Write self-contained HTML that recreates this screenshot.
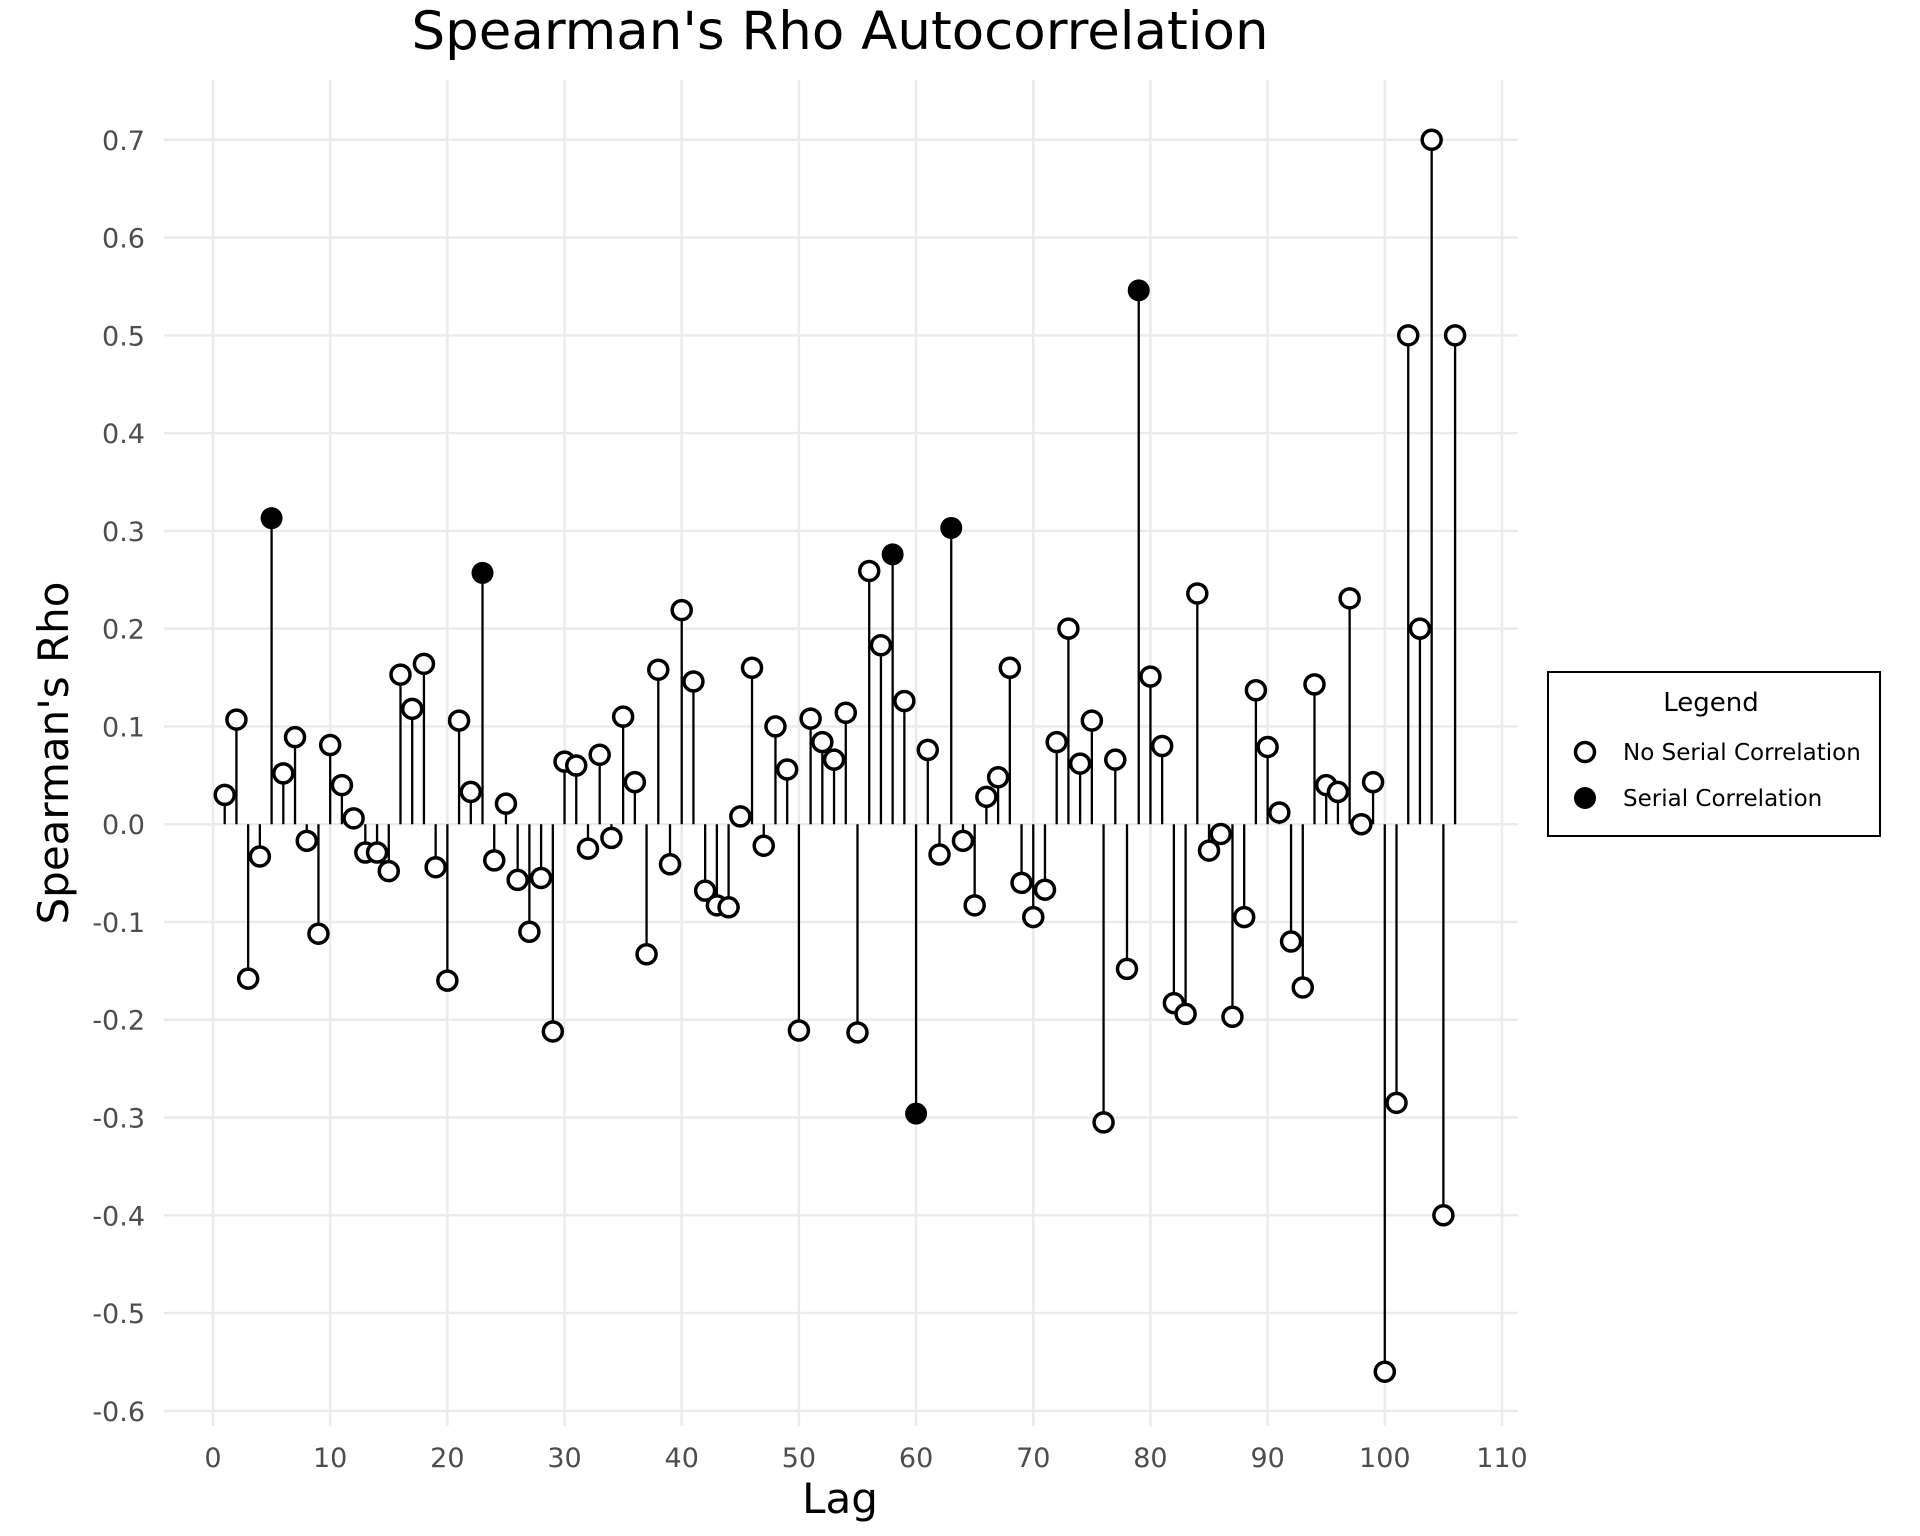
<!DOCTYPE html>
<html><head><meta charset="utf-8"><style>
body{margin:0;background:#fff}
svg{display:block;font-family:"DejaVu Sans","Liberation Sans",sans-serif}
</style></head><body>
<svg id="chart" width="1920" height="1536" viewBox="0 0 1920 1536">
<text x="840" y="49" text-anchor="middle" font-size="53" fill="#000">Spearman's Rho Autocorrelation</text>
<g id="grid"></g><g id="marks"></g>
<text x="840" y="1513" text-anchor="middle" font-size="42" fill="#000">Lag</text>
<text transform="translate(68,753) rotate(-90)" text-anchor="middle" font-size="42" fill="#000">Spearman's Rho</text>
<g>
<rect x="1548" y="672" width="332" height="164" fill="#fff" stroke="#000" stroke-width="2"/>
<text x="1711" y="711" text-anchor="middle" font-size="26">Legend</text>
<circle cx="1585" cy="752" r="9.5" fill="#fff" stroke="#000" stroke-width="3.5"/>
<text x="1623" y="760" font-size="23">No Serial Correlation</text>
<circle cx="1585" cy="798" r="11" fill="#000"/>
<text x="1623" y="806" font-size="23">Serial Correlation</text>
</g>
</svg>
<script>
const rhoValues=[0.03,0.107,-0.158,-0.033,0.313,0.052,0.089,-0.017,-0.112,0.081,0.040,0.006,-0.029,-0.029,-0.048,0.153,0.118,0.164,-0.044,-0.160,0.106,0.033,0.257,-0.037,0.021,-0.057,-0.110,-0.055,-0.212,0.064,0.060,-0.025,0.071,-0.014,0.110,0.043,-0.133,0.158,-0.041,0.219,0.146,-0.068,-0.083,-0.085,0.008,0.160,-0.022,0.100,0.056,-0.211,0.108,0.084,0.066,0.114,-0.213,0.259,0.183,0.276,0.126,-0.296,0.076,-0.031,0.303,-0.017,-0.083,0.028,0.048,0.160,-0.060,-0.095,-0.067,0.084,0.200,0.062,0.106,-0.305,0.066,-0.148,0.546,0.151,0.080,-0.183,-0.194,0.236,-0.027,-0.010,-0.197,-0.095,0.137,0.079,0.012,-0.120,-0.167,0.143,0.040,0.033,0.231,0.000,0.043,-0.560,-0.285,0.500,0.200,0.700,-0.400,0.500];
const serialLags=[5,23,58,60,63,79];
const xTicks=[0,10,20,30,40,50,60,70,80,90,100,110];
const yTicks=[-0.6,-0.5,-0.4,-0.3,-0.2,-0.1,0.0,0.1,0.2,0.3,0.4,0.5,0.6,0.7];
const NS="http://www.w3.org/2000/svg";
const xS=v=>213.0+v*11.718;
const yS=v=>824.2-v*977.7;
function mk(t,a,p){const e=document.createElementNS(NS,t);for(const k in a)e.setAttribute(k,a[k]);p.appendChild(e);return e;}
const grid=document.getElementById('grid'),marks=document.getElementById('marks');
xTicks.forEach(t=>{
 const l=mk('line',{x1:xS(t),x2:xS(t),y1:80,y2:1426,stroke:'#ebebeb','stroke-width':2.5},grid);
 
 
 const tx=mk('text',{x:xS(t),y:1467,'text-anchor':'middle','font-size':27,fill:'#4d4d4d'},grid);tx.textContent=t;
 
 
});
yTicks.forEach(t=>{
 const l=mk('line',{x1:164,x2:1518,y1:yS(t),y2:yS(t),stroke:'#ebebeb','stroke-width':2.5},grid);
 
 
 const tx=mk('text',{x:145,y:yS(t)+10,'text-anchor':'end','font-size':27,fill:'#4d4d4d'},grid);tx.textContent=t.toFixed(1);
 
 
});
rhoValues.forEach((v,i)=>{
 const lag=i+1;
 const s=mk('line',{x1:xS(lag),x2:xS(lag),y1:yS(0),y2:yS(v),stroke:'#000','stroke-width':2.3},marks);
 
 
});
rhoValues.forEach((v,i)=>{
 const lag=i+1,f=serialLags.includes(lag);
 const c=mk('circle',f?{cx:xS(lag),cy:yS(v),r:11,fill:'#000'}:{cx:xS(lag),cy:yS(v),r:9.5,fill:'#fff',stroke:'#000','stroke-width':3.5},marks);
 
 
});
</script>
</body></html>
